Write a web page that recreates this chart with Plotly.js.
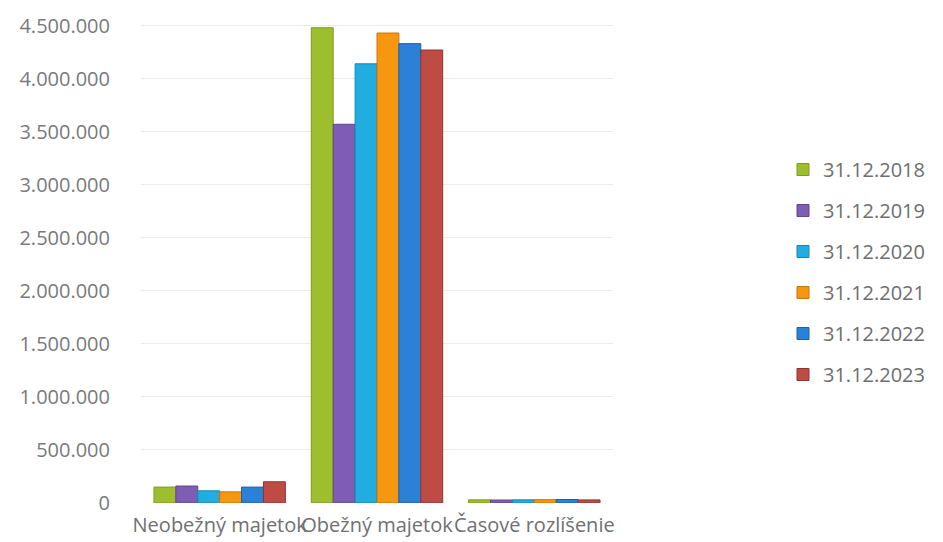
<!DOCTYPE html>
<html>
<head>
<meta charset="utf-8">
<script src="https://cdn.plot.ly/plotly-3.0.1.min.js"></script>
<style>
  html, body { margin: 0; padding: 0; background: #ffffff; }
  #chart { width: 943px; height: 542px; }
</style>
</head>
<body>
<div id="chart"></div>
<script>
// Balance-sheet asset groups (EUR), state at each year end
const categories = ["Neobežný majetok", "Obežný majetok", "Časové rozlíšenie"];

const seriesNames = ["31.12.2018", "31.12.2019", "31.12.2020", "31.12.2021", "31.12.2022", "31.12.2023"];

const values2018 = [150000, 4480000, 30000];
const values2019 = [160000, 3570000, 28000];
const values2020 = [115000, 4140000, 30000];
const values2021 = [105000, 4430000, 32000];
const values2022 = [150000, 4330000, 33000];
const values2023 = [200000, 4270000, 29000];

const yTickValues = [0, 500000, 1000000, 1500000, 2000000, 2500000, 3000000, 3500000, 4000000, 4500000];

const seriesValues = [values2018, values2019, values2020, values2021, values2022, values2023];
const seriesColors = ["#9dbf2e", "#7f5db4", "#22ade0", "#f7960f", "#2b80d8", "#bf4b45"];
const edgeColors   = ["#7d9a20", "#61438f", "#1289b5", "#c97508", "#1c60a8", "#8f3430"];

const FONT = "Open Sans, Lato, sans-serif";

const traces = seriesNames.map((name, i) => ({
  type: "bar",
  name: name,
  x: categories,
  y: seriesValues[i],
  legendgroup: "g" + i,
  marker: { color: seriesColors[i], line: { color: edgeColors[i], width: 1 } },
  hoverinfo: "x+y+name"
}));

const layout = {
  width: 943,
  height: 542,
  paper_bgcolor: "#ffffff",
  plot_bgcolor: "#ffffff",
  separators: ",.",
  margin: { l: 141, r: 330, t: 15, b: 39 },
  barmode: "group",
  bargap: 0.165,
  bargroupgap: 0,
  showlegend: true,
  font: { family: FONT, size: 20, color: "#6e6e6e" },
  xaxis: {
    type: "category",
    showgrid: false,
    zeroline: false,
    showline: false,
    ticks: "",
    tickangle: 0,
    ticklabelstandoff: 8,
    tickfont: { family: FONT, size: 20, color: "#707070" }
  },
  yaxis: {
    range: [0, 4600000],
    tickvals: yTickValues,
    tickformat: ",.0f",
    showgrid: true,
    gridcolor: "#ececec",
    gridwidth: 1,
    zeroline: false,
    showline: false,
    ticks: "",
    ticklabelstandoff: 30,
    tickfont: { family: FONT, size: 20, color: "#7a7a7a" }
  },
  legend: {
    xref: "container",
    yref: "container",
    x: 783 / 943,
    y: 1 - 150 / 542,
    xanchor: "left",
    yanchor: "top",
    orientation: "v",
    itemwidth: 30,
    tracegroupgap: 12,
    bgcolor: "rgba(0,0,0,0)",
    font: { family: FONT, size: 20, color: "#6e6e6e" }
  }
};

Plotly.newPlot("chart", traces, layout, { displayModeBar: false, responsive: false });
</script>
</body>
</html>
